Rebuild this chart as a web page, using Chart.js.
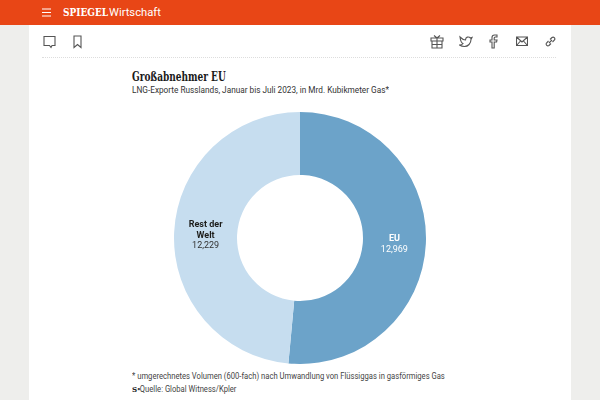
<!DOCTYPE html>
<html lang="de">
<head>
<meta charset="utf-8">
<title>Großabnehmer EU</title>
<script src="https://cdn.jsdelivr.net/npm/chart.js@4"></script>
<style>
html, body { margin: 0; padding: 0; width: 600px; height: 400px; overflow: hidden; background: #eeeeec; }
#card { position: absolute; left: 29px; top: 25px; width: 542px; height: 375px; background: #fff; }
#bar { position: absolute; left: 0; top: 0; width: 600px; height: 25px; background: #e84616; color: #fff; }
#logo { position: absolute; left: 63px; top: 5px; font: bold 11.5px "DejaVu Serif", serif; transform: scaleX(0.78); transform-origin: left; white-space: nowrap; }
#section { position: absolute; left: 109px; top: 5.5px; font: 11.2px Roboto, sans-serif; white-space: nowrap; }
#rule { position: absolute; left: 42px; top: 57px; width: 514px; border-top: 1px dotted #ddd; }
#title { position: absolute; left: 132px; top: 69px; font: bold 13px "DejaVu Serif", serif; color: #1a1a1a; white-space: nowrap; transform: scaleX(0.69); transform-origin: left; }
#subtitle { position: absolute; left: 132px; top: 84px; font: 9.3px Roboto, sans-serif; color: #333; white-space: nowrap; transform: scaleX(0.886); transform-origin: left; }
#note { position: absolute; left: 132px; top: 370.500px; font: 8.6px Roboto, sans-serif; color: #444; white-space: nowrap; transform: scaleX(0.889); transform-origin: left; }
#source { position: absolute; left: 132px; top: 383.500px; font: 8.6px Roboto, sans-serif; color: #444; white-space: nowrap; transform: scaleX(0.889); transform-origin: left; }
#source b { font: bold 8px "DejaVu Serif", serif; color: #222; }
#chartBox { position: absolute; left: 174px; top: 112px; width: 252px; height: 252px; }
svg { position: absolute; fill: none; stroke: #555; stroke-width: 1.1; }
</style>
</head>
<body>
<div id="card"></div>
<div id="bar">
  <svg style="left:42px;top:8px" width="10" height="9" viewBox="0 0 10 9"><path stroke="#fff" d="M0 1h9M0 4.500h9M0 8h9"/></svg>
  <div id="logo">SPIEGEL</div>
  <div id="section">Wirtschaft</div>
</div>

<svg style="left:43px;top:35px" width="14" height="14" viewBox="0 0 14 14"><path d="M1 1.500h11v9H9l-1 2-1.500-2H1z"/></svg>
<svg style="left:73px;top:35px" width="10" height="14" viewBox="0 0 10 14"><path d="M1 1h7v11.500L4.500 9.500 1 12.500z"/></svg>
<svg style="left:430px;top:34px" width="14" height="15" viewBox="0 0 14 15"><path d="M1 4h12v3H1zM2 7h10v7H2zM7 4v10M2 10.500h10M4 1.500l3 2.500 3-2.500"/></svg>
<svg style="left:459px;top:35px" width="14" height="13" viewBox="0 0 14 13"><path d="M1 2c2 2 3.500 3 5.500 3 0-3 3-4 5-2l1.500-.5-1 2c0 4-3 7-6.500 7-2 0-3.500-.5-5-1.500 1.500 0 3-.5 3.500-1.500C2.500 8 1.500 6 1 2z"/></svg>
<svg style="left:489px;top:34px" width="9" height="15" viewBox="0 0 9 15"><path d="M3 14V8H1V6h2V3.500C3 2 4 1 5.500 1H8v2H6.200C5.500 3 5.200 3.300 5.200 4v2H8l-.4 2H5.200v6z"/></svg>
<svg style="left:516px;top:36px" width="12" height="11" viewBox="0 0 12 11"><path d="M.5 1h11v8.500H.5zM.5 1L6 6l5.500-5M.5 9.500l4-4.500M11.500 9.500l-4-4.500"/></svg>
<svg style="left:545px;top:36px" width="11" height="11" viewBox="0 0 11 11"><path d="M4 7L7 4M3.500 5L1.500 7a1.800 1.800 0 0 0 2.500 2.500L6 7.500M5 3.500L7 1.500a1.800 1.800 0 0 1 2.500 2.500L7.500 6"/></svg>
<div id="rule"></div>

<div id="title">Großabnehmer EU</div>
<div id="subtitle">LNG-Exporte Russlands, Januar bis Juli 2023, in Mrd. Kubikmeter Gas*</div>
<div id="chartBox"><canvas id="gasChart"></canvas></div>
<div id="note">* umgerechnetes Volumen (600-fach) nach Umwandlung von Flüssiggas in gasförmiges Gas</div>
<div id="source"><b>S</b>▪Quelle: Global Witness/Kpler</div>

<script>
const categories = [['EU'], ['Rest der', 'Welt']];
const values = [12.969, 12.229];
const valueLabels = ['12,969', '12,229'];
const sliceColors = ['#6ca3c9', '#c6ddef'];
const nameColors = ['#ffffff', '#1d1d1b'];
const valueColors = ['#ffffff', '#333333'];

// writes the name and value on each slice
const sliceLabels = {
    id: 'sliceLabels',
    afterDatasetsDraw(chart) {
        const ctx = chart.ctx;
        const lineHeight = 10.5;
        chart.getDatasetMeta(0).data.forEach((arc, i) => {
            const pos = arc.tooltipPosition();
            const lines = categories[i];
            let y = pos.y + 2 - lines.length * lineHeight / 2;
            ctx.save();
            ctx.textAlign = 'center';
            ctx.textBaseline = 'middle';
            ctx.fillStyle = nameColors[i];
            ctx.font = 'bold 9px Roboto, sans-serif';
            lines.forEach(line => {
                ctx.fillText(line, pos.x, y);
                y += lineHeight;
            });
            ctx.fillStyle = valueColors[i];
            ctx.font = '9px Roboto, sans-serif';
            ctx.fillText(valueLabels[i], pos.x, y);
            ctx.restore();
        });
    }
};

new Chart(document.getElementById('gasChart'), {
    type: 'doughnut',
    data: {
        labels: categories.map(c => c.join(' ')),
        datasets: [{
            data: values,
            backgroundColor: sliceColors,
            borderWidth: 0,
            hoverOffset: 0
        }]
    },
    options: {
        responsive: true,
        maintainAspectRatio: false,
        animation: false,
        cutout: '50%',
        layout: { padding: 0 },
        plugins: {
            legend: { display: false },
            tooltip: { enabled: false }
        }
    },
    plugins: [sliceLabels]
});
</script>
</body>
</html>
